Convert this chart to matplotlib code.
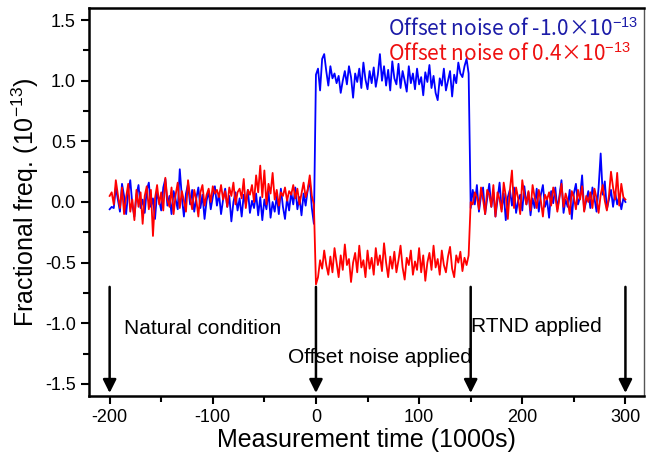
import numpy as np
import matplotlib
matplotlib.use("Agg")
import matplotlib.pyplot as plt
from matplotlib.ticker import MultipleLocator

plt.rcParams['font.family'] = ['Liberation Sans', 'DejaVu Sans']
plt.rcParams['mathtext.fontset'] = 'custom'
plt.rcParams['mathtext.rm'] = 'Liberation Sans'
plt.rcParams['mathtext.it'] = 'Liberation Sans:italic'
plt.rcParams['axes.unicode_minus'] = False

# fractional frequency, units of 1e-13, sampled every 2000 s
# natural condition (-200 .. -2)
blue_nat = [-0.06, -0.04, -0.05, 0.12, 0.02, -0.08, 0.15, 0.05, -0.10, 0.08,
            0.18, -0.02, -0.12, 0.06, 0.14, -0.05, 0.02, -0.09, 0.10, 0.16,
            -0.04, 0.03, -0.14, 0.08, 0.01, -0.07, 0.12, 0.19, -0.03, 0.05,
            -0.10, 0.09, 0.02, -0.06, 0.27, 0.04, -0.12, 0.07, 0.15, -0.02,
            0.10, -0.08, 0.03, 0.12, -0.05, 0.06, -0.14, 0.01, 0.09, -0.06,
            0.04, 0.13, -0.03, 0.07, -0.10, 0.02, 0.11, -0.04, 0.05, -0.16,
            0.00, 0.08, -0.07, 0.03, -0.12, 0.06, -0.02, 0.10, -0.09, 0.01,
            -0.05, 0.07, -0.11, 0.04, -0.15, 0.02, -0.06, 0.09, -0.13, 0.00,
            -0.08, 0.05, -0.10, 0.11, -0.04, -0.14, 0.03, -0.07, 0.08, -0.02,
            0.12, -0.06, 0.04, -0.11, 0.07, -0.03, 0.10, 0.18, -0.05, -0.18]
red_nat = [0.05, 0.08, -0.02, 0.18, 0.06, -0.05, 0.12, -0.10, 0.04, 0.15,
           -0.08, 0.02, -0.15, 0.10, -0.04, 0.08, -0.18, 0.05, 0.13, -0.06,
           0.10, -0.28, 0.03, 0.14, -0.02, 0.08, -0.07, 0.20, 0.02, -0.04,
           0.12, -0.10, 0.06, 0.16, -0.05, 0.09, 0.01, -0.08, 0.18, 0.04,
           -0.06, 0.10, 0.02, -0.12, 0.08, 0.14, -0.03, 0.06, 0.11, 0.00,
           0.13, 0.07, 0.10, 0.04, 0.14, 0.02, 0.09, -0.04, 0.12, 0.05,
           0.16, -0.02, 0.08, 0.11, 0.03, 0.19, -0.05, 0.10, 0.06, 0.14,
           0.00, 0.22, 0.08, 0.30, 0.04, 0.26, -0.02, 0.15, 0.07, 0.24,
           0.02, 0.10, -0.03, 0.08, 0.05, 0.12, 0.01, 0.09, 0.06, 0.14,
           0.03, 0.11, -0.02, 0.07, 0.16, 0.04, 0.10, 0.22, 0.05, -0.02]

# offset noise applied (0 .. 148)
blue_off = [1.05, 1.10, 0.92, 1.18, 1.22, 1.08, 0.96, 1.12, 1.02, 1.06,
            0.98, 1.04, 0.90, 1.00, 1.08, 0.97, 1.12, 1.03, 0.86, 1.06,
            0.99, 1.10, 0.94, 1.15, 1.01, 0.93, 1.08, 0.98, 1.11, 0.95,
            1.05, 1.22, 1.00, 1.12, 0.96, 1.09, 0.92, 1.16, 1.02, 0.97,
            1.14, 0.94, 1.08, 1.00, 0.91, 1.12, 0.98, 1.06, 0.93, 1.10,
            0.97, 1.03, 0.88, 1.07, 0.99, 1.13, 0.94, 1.04, 0.90, 0.84,
            1.02, 0.96, 1.10, 0.92, 1.00, 1.08, 0.87, 1.05, 0.98, 1.15,
            1.06, 1.03, 1.12, 1.18, 1.06]
red_off = [-0.68, -0.62, -0.48, -0.55, -0.40, -0.52, -0.60, -0.45, -0.58, -0.38,
           -0.50, -0.62, -0.44, -0.56, -0.35, -0.52, -0.47, -0.66, -0.50, -0.42,
           -0.58, -0.36, -0.54, -0.48, -0.62, -0.40, -0.55, -0.46, -0.60, -0.38,
           -0.52, -0.44, -0.57, -0.34, -0.50, -0.62, -0.45, -0.55, -0.41, -0.58,
           -0.48, -0.36, -0.54, -0.64, -0.46, -0.52, -0.40, -0.60, -0.49, -0.56,
           -0.38, -0.58, -0.44, -0.65, -0.50, -0.42, -0.56, -0.36, -0.54, -0.47,
           -0.60, -0.40, -0.52, -0.58, -0.45, -0.37, -0.55, -0.62, -0.44, -0.50,
           -0.41, -0.57, -0.46, -0.52, -0.44]

# RTND applied (150 .. 300)
blue_rtnd = [-0.05, 0.10, -0.02, 0.14, -0.08, 0.05, 0.12, -0.10, 0.03, 0.15,
             -0.04, 0.08, -0.12, 0.02, 0.16, -0.06, 0.07, -0.15, 0.04, 0.10,
             -0.03, 0.12, -0.09, 0.01, 0.06, -0.07, 0.13, -0.02, 0.08, -0.11,
             0.03, -0.05, 0.11, -0.08, 0.06, 0.14, -0.04, 0.02, -0.13, 0.09,
             -0.01, 0.12, -0.06, 0.05, 0.18, -0.09, 0.02, -0.04, 0.10, -0.14,
             0.07, 0.15, -0.02, 0.04, 0.22, -0.07, 0.01, 0.09, -0.05, 0.12,
             0.03, -0.08, 0.12, 0.40, 0.06, 0.17, -0.06, 0.02, 0.10, -0.04,
             0.08, -0.02, 0.05, -0.06, 0.03, 0.00]
red_rtnd = [0.00, -0.02, 0.08, 0.04, -0.06, 0.12, 0.02, -0.10, 0.10, 0.06,
            -0.04, 0.14, -0.12, 0.08, 0.02, -0.08, 0.16, 0.05, -0.14, 0.10,
            0.26, -0.05, 0.12, 0.03, -0.10, 0.18, 0.06, -0.02, 0.09, -0.07,
            0.14, 0.04, -0.05, 0.10, 0.01, -0.12, 0.06, 0.02, 0.08, -0.03,
            0.12, 0.05, -0.08, 0.03, 0.15, -0.04, 0.07, 0.01, -0.10, 0.09,
            0.04, -0.06, 0.10, 0.02, 0.13, -0.08, 0.05, 0.00, 0.08, -0.05,
            0.11, 0.03, -0.09, 0.06, 0.14, 0.01, -0.07, 0.05, 0.25, 0.12,
            0.02, 0.24, -0.03, 0.15, 0.04, 0.02]

arrow_x = [-200, 0, 150, 300]
stage_labels = ["Natural condition", "Offset noise applied", "RTND applied"]
stage_pos = [(-186, -1.04), (-27, -1.28), (150, -1.03)]


def time_axis(n_nat, n_off, n_rtnd):
    return np.concatenate([np.linspace(-200, -2, n_nat),
                           np.linspace(0, 148, n_off),
                           np.linspace(150, 300, n_rtnd)])


t_blue = time_axis(len(blue_nat), len(blue_off), len(blue_rtnd))
t_red = time_axis(len(red_nat), len(red_off), len(red_rtnd))
blue = np.array(blue_nat + blue_off + blue_rtnd)
red = np.array(red_nat + red_off + red_rtnd)

fig = plt.figure(figsize=(6.47, 4.58), dpi=100)
ax = fig.add_axes([89 / 647, 62 / 458, 555 / 647, 388 / 458])

ax.plot(t_blue, blue, color='#0000ff', lw=1.3)
ax.plot(t_red, red, color='#ff0000', lw=1.3)

for x in arrow_x:
    ax.annotate('', xy=(x, -1.575), xytext=(x, -0.7),
                arrowprops=dict(arrowstyle='-|>', color='black', lw=1.8,
                                mutation_scale=20, shrinkA=0, shrinkB=0))

for s, (x, y) in zip(stage_labels, stage_pos):
    ax.text(x, y, s, fontsize=15, ha='left', va='center')

fam = ['Noto Sans CJK SC', 'DejaVu Sans']
ax.text(0.99, 0.975, 'Offset noise of -1.0\u00d710$^{-13}$', transform=ax.transAxes,
        ha='right', va='top', fontsize=15, color='#1c1ca8', family=fam)
ax.text(0.976, 0.91, 'Offset noise of 0.4\u00d710$^{-13}$', transform=ax.transAxes,
        ha='right', va='top', fontsize=15, color='#ee1010', family=fam)

ax.set_xlim(-220, 318)
ax.set_ylim(-1.6, 1.6)
ax.xaxis.set_major_locator(MultipleLocator(100))
ax.xaxis.set_minor_locator(MultipleLocator(50))
ax.yaxis.set_major_locator(MultipleLocator(0.5))
ax.yaxis.set_minor_locator(MultipleLocator(0.25))
ax.yaxis.set_major_formatter(plt.FuncFormatter(lambda v, p: f'{v:.1f}'))
ax.tick_params(which='major', direction='out', length=6, width=1.5, labelsize=13)
ax.tick_params(which='minor', direction='out', length=4, width=1.5)
for side in ['left', 'bottom', 'top']:
    ax.spines[side].set_linewidth(1.8)
ax.spines['right'].set_linewidth(1.0)
ax.spines['right'].set_color('#555555')

ax.set_xlabel('Measurement time (1000s)', fontsize=18, labelpad=1)
ax.set_ylabel('Fractional freq. (10$^{-13}$)', fontsize=18, labelpad=3)

fig.savefig('out.png', dpi=100)
